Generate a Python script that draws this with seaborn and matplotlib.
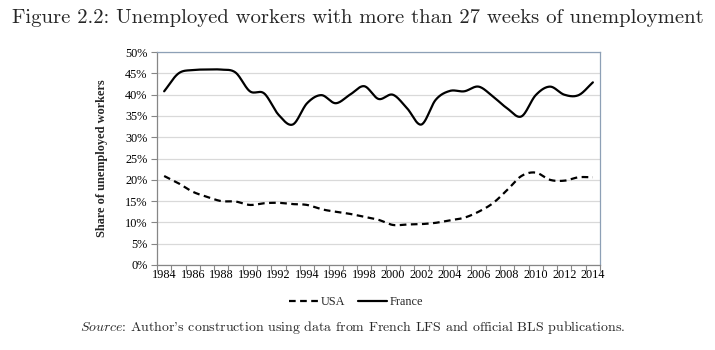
import numpy as np
import pandas as pd
import matplotlib
matplotlib.use("Agg")
import matplotlib.pyplot as plt
import seaborn as sns
from matplotlib.lines import Line2D
from matplotlib.ticker import FixedLocator, PercentFormatter

years = list(range(1984, 2015))
france = [40.8, 45.0, 45.8, 45.9, 45.9, 45.2, 40.8, 40.3, 35.3, 33.0, 38.0, 39.9,
          38.0, 40.0, 42.0, 39.0, 40.0, 36.8, 33.0, 38.8, 40.9, 40.8, 41.9, 39.6,
          36.8, 34.9, 39.9, 41.9, 40.0, 39.9, 42.9]
usa = [20.9, 19.2, 17.2, 16.0, 15.0, 14.9, 14.1, 14.5, 14.6, 14.3, 14.1, 13.1,
       12.5, 12.0, 11.3, 10.6, 9.4, 9.5, 9.6, 9.9, 10.5, 11.1, 12.5, 14.5,
       17.6, 20.9, 21.7, 20.0, 19.8, 20.6, 20.6]
x_labels = [str(y) for y in range(1984, 2015, 2)]
y_ticks = list(range(0, 51, 5))


def smooth(xs, ys, n=24):
    # Catmull-Rom spline through the data points (Excel-style smoothed line)
    xs = np.asarray(xs, float)
    ys = np.asarray(ys, float)
    px = np.concatenate([[2 * xs[0] - xs[1]], xs, [2 * xs[-1] - xs[-2]]])
    py = np.concatenate([[2 * ys[0] - ys[1]], ys, [2 * ys[-1] - ys[-2]]])
    ox, oy = [], []
    t = np.linspace(0, 1, n, endpoint=False)
    for i in range(1, len(px) - 2):
        for arr, out in ((px, ox), (py, oy)):
            p0, p1, p2, p3 = arr[i - 1], arr[i], arr[i + 1], arr[i + 2]
            out.extend(0.5 * ((2 * p1) + (-p0 + p2) * t
                              + (2 * p0 - 5 * p1 + 4 * p2 - p3) * t ** 2
                              + (-p0 + 3 * p1 - 3 * p2 + p3) * t ** 3))
    ox.append(xs[-1]); oy.append(ys[-1])
    return np.array(ox), np.array(oy)


sns.set_theme(style="white")
plt.rcParams["mathtext.fontset"] = "cm"

fig = plt.figure(figsize=(7.15, 3.5), dpi=100)
ax = fig.add_axes([0.2196, 0.243, 0.6196, 0.608])

fx, fy = smooth(years, france)
ux, uy = smooth(years, usa)
df_f = pd.DataFrame({"year": fx, "share": fy})
df_u = pd.DataFrame({"year": ux, "share": uy})
sns.lineplot(data=df_u, x="year", y="share", ax=ax, color="black", lw=1.6,
             linestyle=(0, (3, 2)), sort=False, estimator=None)
sns.lineplot(data=df_f, x="year", y="share", ax=ax, color="black", lw=1.6,
             sort=False, estimator=None)

ax.set_xlim(1983.5, 2014.5)
ax.set_ylim(0, 50)
ax.set_yticks(y_ticks)
ax.yaxis.set_major_formatter(PercentFormatter(decimals=0))
ax.grid(axis="y", color="#d9d9d9", lw=0.9)
ax.set_axisbelow(True)

ax.set_xticks(range(1984, 2015, 2))
ax.set_xticklabels(x_labels)
ax.xaxis.set_minor_locator(FixedLocator(np.arange(1983.5, 2015, 1)))
ax.tick_params(axis="x", which="major", length=0, pad=3)
ax.tick_params(axis="x", which="minor", length=4, width=0.8, color="#868686", bottom=True)
ax.tick_params(axis="y", length=4, width=0.8, color="#868686", left=True, pad=3)
for lab in ax.get_xticklabels() + ax.get_yticklabels():
    lab.set_fontfamily("Liberation Serif")
    lab.set_fontsize(8.8)
    lab.set_color("black")

for s in ["left", "bottom"]:
    ax.spines[s].set_color("#868686")
    ax.spines[s].set_linewidth(0.9)
for s in ["top", "right"]:
    ax.spines[s].set_color("#8da0b6")
    ax.spines[s].set_linewidth(0.9)

ax.set_xlabel("")
ax.set_ylabel("Share of unemployed workers", fontfamily="Liberation Serif",
              fontweight="bold", fontsize=8.8, labelpad=12)

handles = [Line2D([], [], color="black", lw=1.6, linestyle=(0, (3, 2))),
           Line2D([], [], color="black", lw=1.6)]
fig.legend(handles, ["USA", "France"], loc="center", bbox_to_anchor=(0.498, 0.137),
           ncol=2, frameon=False, handlelength=2.4, handletextpad=0.2,
           columnspacing=1.0, prop={"family": "Liberation Serif", "size": 8.8})

fig.text(0.5, 0.949, "Figure 2.2: Unemployed workers with more than 27 weeks of unemployment",
         fontfamily="cmr10", fontsize=14.9, ha="center", va="center")
fig.text(0.494, 0.063, r"$\mathit{Source}$: Author's construction using data from French LFS and official BLS publications.",
         fontfamily="cmr10", fontsize=10, ha="center", va="center")

fig.savefig("out.png", dpi=100, facecolor="white")
